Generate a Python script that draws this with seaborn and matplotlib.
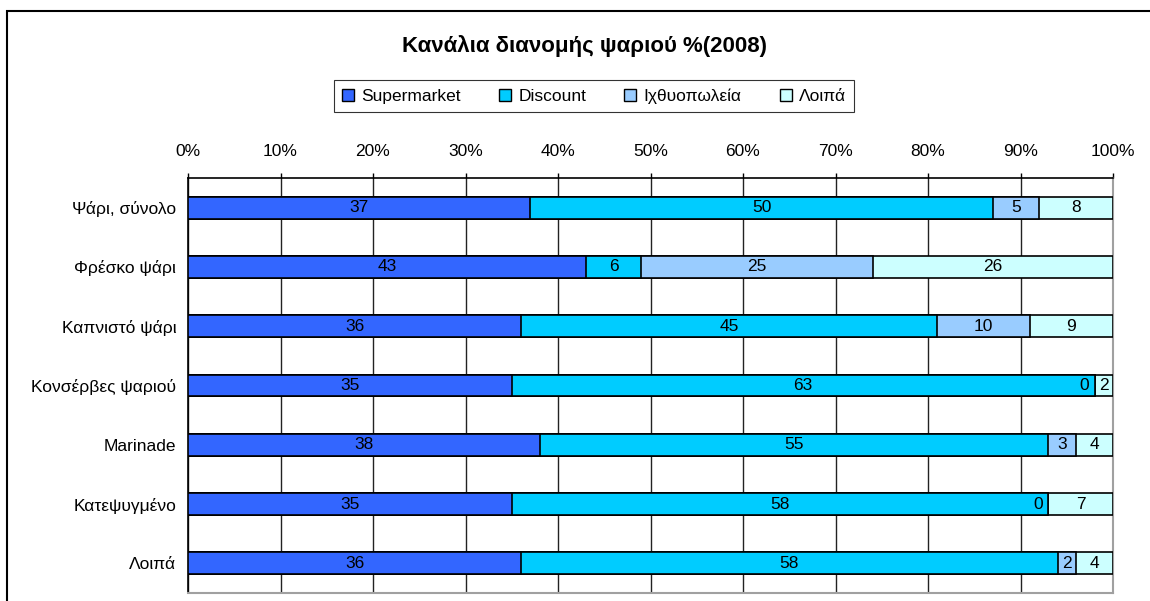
import numpy as np
import pandas as pd
import matplotlib
matplotlib.use("Agg")
import matplotlib.pyplot as plt
import matplotlib.patches as mpatches
import seaborn as sns

categories = ["Ψάρι, σύνολο", "Φρέσκο ψάρι", "Καπνιστό ψάρι", "Κονσέρβες ψαριού",
              "Marinade", "Κατεψυγμένο", "Λοιπά"]
supermarket = [37, 43, 36, 35, 38, 35, 36]
discount = [50, 6, 45, 63, 55, 58, 58]
fishmonger = [5, 25, 10, 0, 3, 0, 2]
other = [8, 26, 9, 2, 4, 7, 4]

series_names = ["Supermarket", "Discount", "Ιχθυοπωλεία", "Λοιπά"]
colors = ["#3366FF", "#00CCFF", "#99CCFF", "#CCFFFF"]
xticks = [0, 10, 20, 30, 40, 50, 60, 70, 80, 90, 100]

sns.set_style("white")
plt.rcParams["font.family"] = ["Liberation Sans", "DejaVu Sans"]
plt.rcParams["text.color"] = "black"
plt.rcParams["xtick.labelcolor"] = "black"
plt.rcParams["ytick.labelcolor"] = "black"

df = pd.DataFrame({"cat": categories, "Supermarket": supermarket, "Discount": discount,
                   "Ιχθυοπωλεία": fishmonger, "Λοιπά": other})
cum = df[series_names].cumsum(axis=1)

fig = plt.figure(figsize=(11.5, 6.01), dpi=100)
ax = fig.add_axes([188/1150, 1-593/601, (1113-188)/1150, (593-178)/601])

# draw cumulative bars, longest first so shorter ones sit on top
for name, col in reversed(list(zip(series_names, colors))):
    sns.barplot(x=cum[name], y=df["cat"], orient="h", color=col, saturation=1, width=0.37,
                edgecolor="black", linewidth=1.2, ax=ax, zorder=3)

fs = 12.5
# value labels
for i in range(len(categories)):
    left = 0
    for name in series_names:
        v = df[name][i]
        if v == 0:
            ax.annotate(str(v), (left, i), xytext=(-4, 0), textcoords="offset points",
                        ha="right", va="center", fontsize=fs, color="black", zorder=5)
        else:
            ax.text(left + v/2, i, str(v), ha="center", va="center", fontsize=fs,
                    color="black", zorder=5)
        left += v

ax.set_xlim(0, 100)
ax.set_ylim(len(categories) - 0.5, -0.5)
ax.set_xticks(xticks)
ax.set_xticklabels([f"{t}%" for t in xticks], fontsize=fs)
ax.xaxis.tick_top()
ax.tick_params(axis="x", direction="out", length=3.6, width=1, color="black", pad=10)
ax.set_yticks(np.arange(len(categories)))
ax.set_yticklabels(categories, fontsize=fs)
ax.tick_params(axis="y", length=0, pad=8.5)
ax.set_yticks(np.arange(len(categories) + 1) - 0.5, minor=True)
ax.tick_params(axis="y", which="minor", direction="out", length=3.6, width=1, color="black")
ax.set_xlabel("")
ax.set_ylabel("")
ax.grid(axis="x", color="#222222", linewidth=1, zorder=0)
ax.set_axisbelow(True)

for s in ["top", "left"]:
    ax.spines[s].set_color("black")
    ax.spines[s].set_linewidth(1.2)
for s in ["right", "bottom"]:
    ax.spines[s].set_color("#A0A0A0")
    ax.spines[s].set_linewidth(1.5)

handles = [mpatches.Patch(facecolor=c, edgecolor="black", label=n) for n, c in zip(series_names, colors)]
leg = fig.legend(handles=handles, loc="center", bbox_to_anchor=(594/1150, 1-96/601), ncol=4,
                 fontsize=fs, frameon=True, fancybox=False, handlelength=0.7, handleheight=0.7,
                 handletextpad=0.4, columnspacing=2.2, borderpad=0.45)
leg.get_frame().set_edgecolor("black")
leg.get_frame().set_linewidth(0.8)

fig.text(585/1150, 1-46/601, "Κανάλια διανομής ψαριού %(2008)", ha="center", va="center",
         fontsize=16, fontweight="bold", color="black")

fig.patches.append(mpatches.Rectangle((7/1150, -0.1), 1.2, 1-11/601+0.1, transform=fig.transFigure,
                                      fill=False, edgecolor="black", linewidth=1.5))

fig.savefig("out.png", dpi=100)
